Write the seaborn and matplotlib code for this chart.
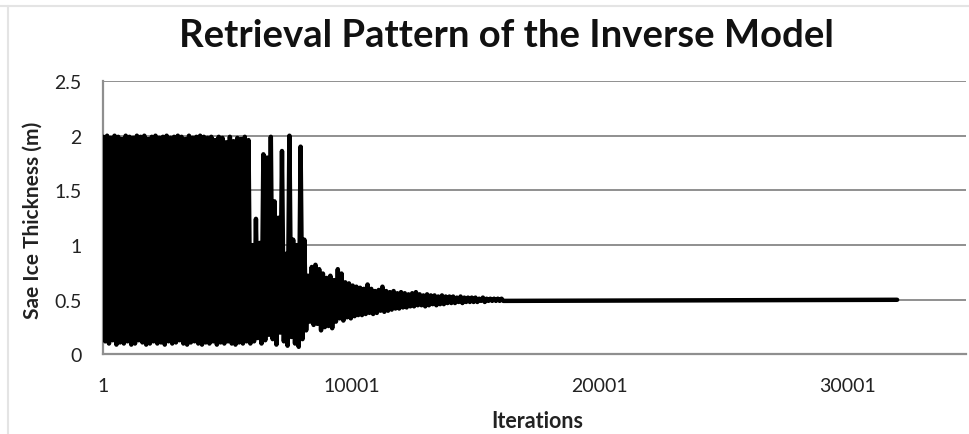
import numpy as np
import pandas as pd
import matplotlib
matplotlib.use("Agg")
import matplotlib.pyplot as plt
import seaborn as sns
from matplotlib.lines import Line2D

# peaks / troughs of the oscillation, one pair every 150 iterations
dense_peaks = [1.99, 2.00, 1.98, 2.00, 1.99, 1.97, 2.00, 1.99, 1.98, 2.00,
               1.99, 2.00, 1.97, 1.99, 2.00, 1.98, 1.99, 2.00, 1.98, 1.99,
               2.00, 1.99, 1.97, 2.00, 1.98, 1.99, 2.00, 1.99, 1.98, 1.99,
               1.96, 1.99, 1.98, 1.94, 1.99, 1.95, 1.98, 1.97, 1.99, 1.96]
dense_troughs = [0.12, 0.10, 0.13, 0.09, 0.11, 0.10, 0.12, 0.09, 0.10, 0.13,
                 0.11, 0.09, 0.10, 0.12, 0.10, 0.11, 0.09, 0.12, 0.10, 0.11,
                 0.13, 0.10, 0.09, 0.11, 0.12, 0.10, 0.09, 0.11, 0.10, 0.12,
                 0.09, 0.11, 0.10, 0.12, 0.10, 0.09, 0.11, 0.10, 0.12, 0.10]

spike_peaks = [1.00, 1.24, 1.02, 1.83, 1.80, 1.99, 1.40, 1.25, 1.86, 0.92,
               2.00, 1.05, 1.00, 1.90, 1.05]
spike_troughs = [0.12, 0.15, 0.10, 0.13, 0.18, 0.14, 0.09, 0.20, 0.12, 0.08,
                 0.16, 0.10, 0.07, 0.14, 0.22]

decay_peaks = [0.72, 0.80, 0.82, 0.78, 0.74, 0.70, 0.72, 0.68, 0.78, 0.74,
               0.66, 0.65, 0.63, 0.62, 0.61, 0.60, 0.64, 0.60, 0.58, 0.59,
               0.62, 0.58, 0.57, 0.58, 0.56, 0.57, 0.56, 0.55, 0.56, 0.57,
               0.55, 0.54, 0.55, 0.54, 0.54, 0.53, 0.54, 0.53, 0.53, 0.53,
               0.52, 0.53, 0.52, 0.52, 0.52, 0.52, 0.51, 0.52, 0.51, 0.51,
               0.51, 0.51, 0.51]
decay_troughs = [0.30, 0.27, 0.28, 0.22, 0.25, 0.26, 0.24, 0.30, 0.33, 0.31,
                 0.34, 0.33, 0.35, 0.36, 0.36, 0.37, 0.38, 0.37, 0.38, 0.40,
                 0.39, 0.40, 0.41, 0.42, 0.42, 0.43, 0.43, 0.44, 0.44, 0.45,
                 0.45, 0.44, 0.45, 0.46, 0.45, 0.46, 0.46, 0.47, 0.47, 0.47,
                 0.48, 0.47, 0.48, 0.48, 0.48, 0.48, 0.49, 0.48, 0.49, 0.49,
                 0.49, 0.49, 0.49]

converged_value = 0.5
last_iteration = 32001
period = 150

x_ticks = [1, 10001, 20001, 30001]
y_ticks = [0, 0.5, 1, 1.5, 2, 2.5]
y_tick_labels = ["0", "0.5", "1", "1.5", "2", "2.5"]


def build_series():
    peaks = np.array(dense_peaks + spike_peaks + decay_peaks)
    troughs = np.array(dense_troughs + spike_troughs + decay_troughs)
    k = np.arange(len(peaks))
    it = np.column_stack([1 + period * k, 1 + period * k + period // 2]).ravel()
    val = np.column_stack([peaks, troughs]).ravel()
    it = np.append(it, last_iteration)
    val = np.append(val, converged_value)
    return pd.DataFrame({"Iteration": it, "Thickness": val})


sns.set_style("white")
plt.rcParams["font.family"] = ["Lato", "DejaVu Sans"]
plt.rcParams["path.simplify"] = False

df = build_series()
fig = plt.figure(figsize=(9.69, 4.35), dpi=100)
ax = fig.add_axes([0.1067, 0.1828, 0.890, 0.6287])

grey = "#8f8f8f"
sns.lineplot(data=df, x="Iteration", y="Thickness", color="black",
             linewidth=3.2, sort=False, estimator=None, ax=ax, zorder=3)

ax.set_xlim(1, 34770)
ax.set_ylim(0, 2.5)
ax.set_xticks(x_ticks)
ax.set_xticklabels([str(t) for t in x_ticks])
ax.set_yticks(y_ticks)
ax.set_yticklabels(y_tick_labels)
ax.yaxis.grid(True, color=grey, linewidth=1.4)
ax.xaxis.grid(False)
for side in ["top", "right"]:
    ax.spines[side].set_visible(False)
for side in ["left", "bottom"]:
    ax.spines[side].set_color(grey)
    ax.spines[side].set_linewidth(1.6)
ax.tick_params(axis="both", which="major", direction="out", length=4.5,
               width=1.2, color=grey, labelsize=14, labelcolor="#222222")
ax.tick_params(axis="y", pad=11)
ax.tick_params(axis="x", pad=12)
ax.set_xlabel("")
ax.set_ylabel("")

fig.text(0.523, 0.892, "Retrieval Pattern of the Inverse Model",
         ha="center", va="baseline", fontsize=27.5, fontweight="bold", color="#111111")
fig.text(0.034, 0.494, "Sae Ice Thickness (m)", rotation=90, ha="center",
         va="center", fontsize=15, fontweight="bold", color="#222222")
fig.text(0.5547, 0.032, "Iterations", ha="center", va="center",
         fontsize=15.5, fontweight="bold", color="#222222")

# faint frame of the original screenshot
fig.add_artist(Line2D([0, 1], [0.985, 0.985], transform=fig.transFigure,
                      color="#e4e4e4", linewidth=1.5))
fig.add_artist(Line2D([0.008, 0.008], [0, 0.985], transform=fig.transFigure,
                      color="#e4e4e4", linewidth=1.5))

fig.savefig("out.png", dpi=100)
